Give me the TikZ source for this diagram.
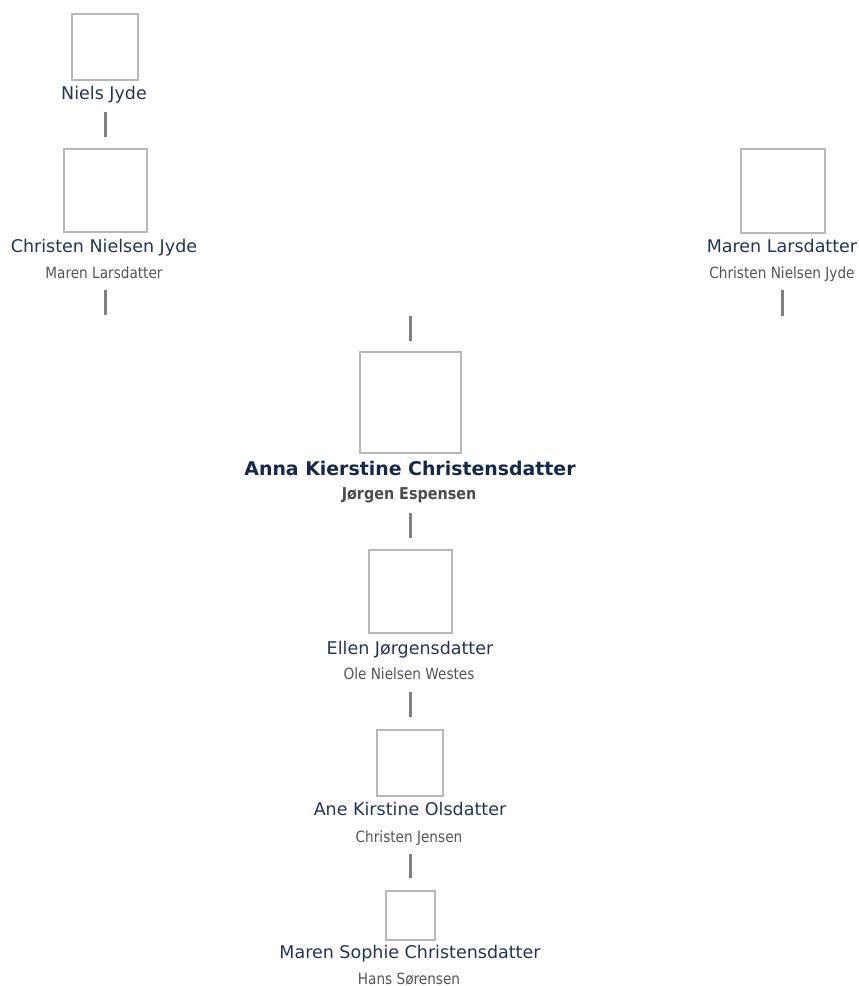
\documentclass[tikz,border=0pt]{standalone}
\usepackage{fontspec}
\setmainfont{DejaVu Sans}
\newfontfamily\spfont[FakeStretch=0.88]{DejaVu Sans}
\definecolor{namecol}{HTML}{22345A}
\definecolor{boldcol}{HTML}{14284D}
\definecolor{spcol}{HTML}{555555}
\definecolor{boxcol}{HTML}{B8B8B8}
\definecolor{conncol}{HTML}{808080}
\tikzset{
  pbox/.style={draw=boxcol, line width=2pt, fill=white, inner sep=0pt, minimum width=#1, minimum height=#1},
  pname/.style={anchor=base, inner sep=0pt, text=namecol, font=\fontsize{17.5}{20}\selectfont},
  pnamebold/.style={anchor=base, inner sep=0pt, text=boldcol, font=\fontsize{18.9}{21}\selectfont\bfseries},
  pspouse/.style={anchor=base, inner sep=0pt, text=spcol, font=\spfont\fontsize{15.5}{18}\selectfont},
  pspousebold/.style={anchor=base, inner sep=0pt, text=spcol!90!black, font=\spfont\fontsize{16.3}{19}\selectfont\bfseries},
  conn/.style={draw=conncol, line width=3pt}
}
\begin{document}
\begin{tikzpicture}[x=1pt,y=-1pt]
\useasboundingbox (0,0) rectangle (859,986);
% left column
\node[pbox=66pt] (nielsbox) at (105,47) {};
\node[pname] (nielsname) at (104,99) {Niels Jyde};
\node[pbox=83pt] (christbox) at (105,190.5) {};
\node[pname] (christname) at (104,252) {Christen Nielsen Jyde};
\node[pspouse] (christsp) at (104,278) {Maren Larsdatter};
% right column
\node[pbox=84pt] (marenlbox) at (783,190.5) {};
\node[pname] (marenlname) at (782,252) {Maren Larsdatter};
\node[pspouse] (marenlsp) at (782,278) {Christen Nielsen Jyde};
% centre column
\node[pbox=101pt] (annabox) at (410,402.5) {};
\node[pnamebold] (annaname) at (410,475) {Anna Kierstine Christensdatter};
\node[pspousebold] (annasp) at (409,499) {Jørgen Espensen};
\node[pbox=83pt] (ellenbox) at (410,591.5) {};
\node[pname] (ellenname) at (410,654) {Ellen Jørgensdatter};
\node[pspouse] (ellensp) at (409,679) {Ole Nielsen Westes};
\node[pbox=66pt] (anebox) at (410,762.5) {};
\node[pname] (anename) at (410,815) {Ane Kirstine Olsdatter};
\node[pspouse] (anesp) at (409,842) {Christen Jensen};
\node[pbox=49pt] (marensbox) at (410,915.5) {};
\node[pname] (marensname) at (410,958) {Maren Sophie Christensdatter};
\node[pspouse] (marenssp) at (409,984) {Hans Sørensen};
% free connector ends
\coordinate (christdown) at (105,315);
\coordinate (marenldown) at (782,316);
\coordinate (annaup) at (410,316);
% connectors
\draw[conn] ([yshift=-13pt]nielsname.base -| nielsbox.center) -- ([yshift=11pt]christbox.north);
\draw[conn] ([yshift=-12pt]christsp.base -| christdown) -- (christdown);
\draw[conn] ([yshift=-12pt]marenlsp.base -| marenldown) -- (marenldown);
\draw[conn] (annaup) -- ([yshift=10pt]annabox.north);
\draw[conn] ([yshift=-14pt]annasp.base -| annabox.center) -- ([yshift=11pt]ellenbox.north);
\draw[conn] ([yshift=-13pt]ellensp.base -| ellenbox.center) -- ([yshift=12pt]anebox.north);
\draw[conn] ([yshift=-12pt]anesp.base -| anebox.center) -- ([yshift=12pt]marensbox.north);
\end{tikzpicture}
\end{document}
